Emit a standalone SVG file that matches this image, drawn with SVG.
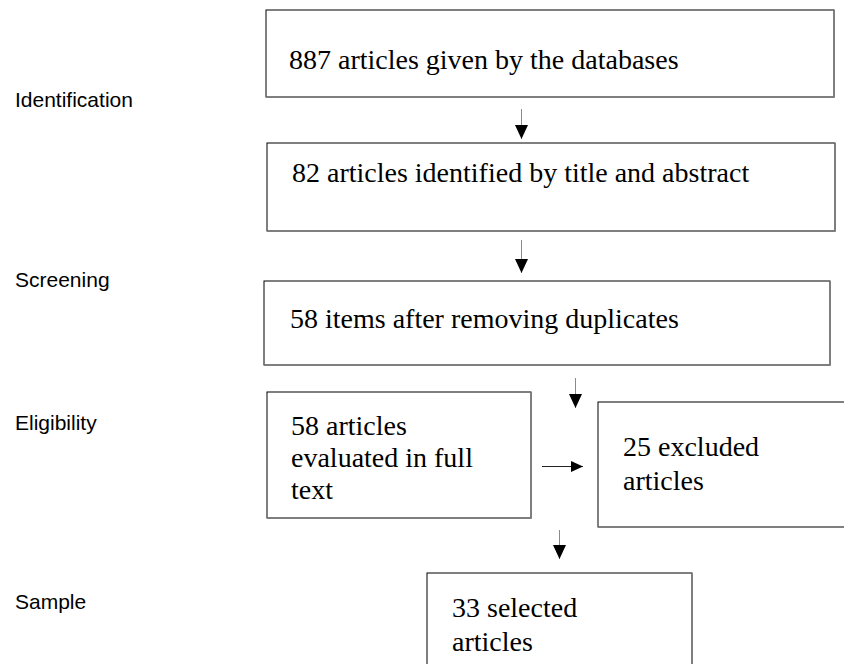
<svg xmlns="http://www.w3.org/2000/svg" width="844" height="664" viewBox="0 0 844 664">
<style>
.box{fill:#fff;stroke:#000;stroke-width:1}
.shade{fill:none;stroke:#7f7f7f;stroke-width:1.5}
.t{font-family:"Liberation Serif","Times New Roman",serif;font-size:28px;fill:#000}
.lbl{font-family:"Liberation Sans",Arial,sans-serif;font-size:21px;fill:#000}
.v{stroke:#8a8a8a;stroke-width:1;fill:none}
.h{stroke:#222;stroke-width:1;fill:none}
</style>
<defs>
<marker id="ah" markerUnits="userSpaceOnUse" markerWidth="14" markerHeight="13" refX="14" refY="6.5" orient="auto">
<path d="M0,0 L14,6.5 L0,13 Z" fill="#000"/>
</marker>
<marker id="ahs" markerUnits="userSpaceOnUse" markerWidth="12" markerHeight="11" refX="12" refY="5.5" orient="auto">
<path d="M0,0 L12,5.5 L0,11 Z" fill="#000"/>
</marker>
</defs>
<rect width="844" height="664" fill="#fff"/>
<g id="labels">
<text class="lbl" x="15" y="107">Identification</text>
<text class="lbl" x="15" y="287">Screening</text>
<text class="lbl" x="15" y="430">Eligibility</text>
<text class="lbl" x="15" y="609">Sample</text>
</g>
<g id="n1">
<rect class="box" x="266" y="10" width="568" height="87"/>
<path class="shade" d="M834,10 V97 H266"/>
<text class="t" x="289" y="69">887 articles given by the databases</text>
</g>
<g id="n2">
<rect class="box" x="267" y="143" width="568" height="88"/>
<path class="shade" d="M835,143 V231 H267"/>
<text class="t" x="292" y="182">82 articles identified by title and abstract</text>
</g>
<g id="n3">
<rect class="box" x="264" y="281" width="566" height="84"/>
<path class="shade" d="M830,281 V365 H264"/>
<text class="t" x="290" y="328">58 items after removing duplicates</text>
</g>
<g id="n4">
<rect class="box" x="267" y="392" width="264" height="126"/>
<path class="shade" d="M531,392 V518 H267"/>
<text class="t" x="291" y="435">58 articles</text>
<text class="t" x="291" y="467">evaluated in full</text>
<text class="t" x="291" y="499">text</text>
</g>
<g id="n5">
<rect class="box" x="598" y="402" width="260" height="125"/>
<path class="shade" d="M858,527 H598"/>
<text class="t" x="623" y="456">25 excluded</text>
<text class="t" x="623" y="490">articles</text>
</g>
<g id="n6">
<rect class="box" x="427" y="573" width="265" height="120"/>
<path class="shade" d="M692,573 V693"/>
<text class="t" x="452" y="617">33 selected</text>
<text class="t" x="452" y="651">articles</text>
</g>
<g id="connectors">
<line class="v" x1="521.5" y1="109" x2="521.5" y2="139" marker-end="url(#ah)"/>
<line class="v" x1="521.5" y1="240" x2="521.5" y2="273" marker-end="url(#ah)"/>
<line class="v" x1="575.5" y1="378" x2="575.5" y2="408" marker-end="url(#ah)"/>
<line class="h" x1="542" y1="466.5" x2="583" y2="466.5" marker-end="url(#ahs)"/>
<line class="v" x1="559.5" y1="530" x2="559.5" y2="559" marker-end="url(#ah)"/>
</g>
</svg>
